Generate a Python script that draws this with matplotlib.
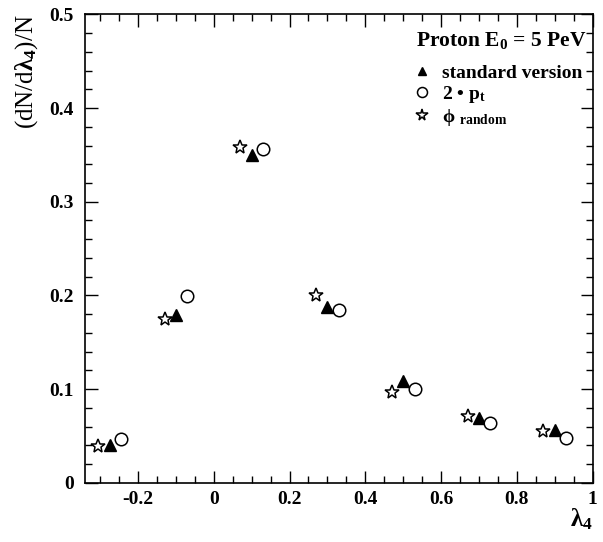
import matplotlib
matplotlib.use('Agg')
from matplotlib import pyplot as plt
from matplotlib.ticker import MultipleLocator

# Valores
lam4 = [-0.275, -0.1, 0.1, 0.3, 0.5, 0.7, 0.9]
standard = [0.040, 0.179, 0.350, 0.188, 0.109, 0.069, 0.057]
dois_pt = [0.047, 0.199, 0.356, 0.185, 0.100, 0.064, 0.048]
phi_random = [0.039, 0.175, 0.358, 0.201, 0.097, 0.071, 0.055]

desloc = 0.03  # deslocamento horizontal entre as versões

plt.rcParams['font.family'] = 'Liberation Serif'
plt.rcParams['font.weight'] = 'bold'
plt.rcParams['mathtext.fontset'] = 'custom'
plt.rcParams['mathtext.rm'] = 'Liberation Serif:bold'
plt.rcParams['mathtext.it'] = 'Liberation Serif:bold'
plt.rcParams['mathtext.bf'] = 'Liberation Serif:bold'

fig = plt.figure(figsize=(6.03, 5.42), dpi=100)
ax = fig.add_axes([0.141, 0.109, 0.8416, 0.8646])

ax.plot(lam4, standard, linestyle='none', marker='^', color='black',
        markersize=8, label='standard version')
ax.plot([x + desloc for x in lam4], dois_pt, linestyle='none', marker='o',
        markerfacecolor='white', markeredgecolor='black', markeredgewidth=1.1,
        markersize=9, label=r'2 • p$_\mathrm{t}$')
ax.plot([x - desloc for x in lam4], phi_random, linestyle='none', marker='*',
        markerfacecolor='white', markeredgecolor='black', markeredgewidth=1.1,
        markersize=10.5, label=r'$\phi$ $_\mathrm{random}$')

ax.set_xlim(-0.34, 1.0)
ax.set_ylim(0, 0.5)
ax.xaxis.set_minor_locator(MultipleLocator(0.05))
ax.yaxis.set_minor_locator(MultipleLocator(0.02))
ax.set_xticks([-0.2, 0, 0.2, 0.4, 0.6, 0.8, 1.0])
ax.set_xticklabels(['-0.2', '0', '0.2', '0.4', '0.6', '0.8', '1'])
ax.set_yticks([0, 0.1, 0.2, 0.3, 0.4, 0.5])
ax.set_yticklabels(['0', '0.1', '0.2', '0.3', '0.4', '0.5'])

ax.tick_params(which='both', direction='in', top=True, right=True,
               labelsize=14, width=1)
ax.tick_params(which='major', length=9)
ax.tick_params(which='minor', length=5)
ax.tick_params(axis='x', pad=6)
ax.tick_params(axis='y', pad=8)
for s in ax.spines.values():
    s.set_linewidth(1.2)

ax.set_xlabel(r'$\lambda_4$', loc='right', fontsize=18, labelpad=-1)
ax.set_ylabel(r'(dN/d$\lambda_4$)/N', loc='top', fontsize=18, labelpad=7)

# Título da legenda separado, como no original
ax.text(0.652, 0.945, r'Proton E$_0$ = 5 PeV', transform=ax.transAxes,
        fontsize=15.5, fontweight='bold', ha='left', va='center')
ax.legend(loc='upper left', bbox_to_anchor=(0.612, 0.93), frameon=False,
          fontsize=14, handlelength=0.9, handletextpad=0.6, labelspacing=0.1,
          markerscale=0.8)

fig.savefig('out.png', dpi=100)
